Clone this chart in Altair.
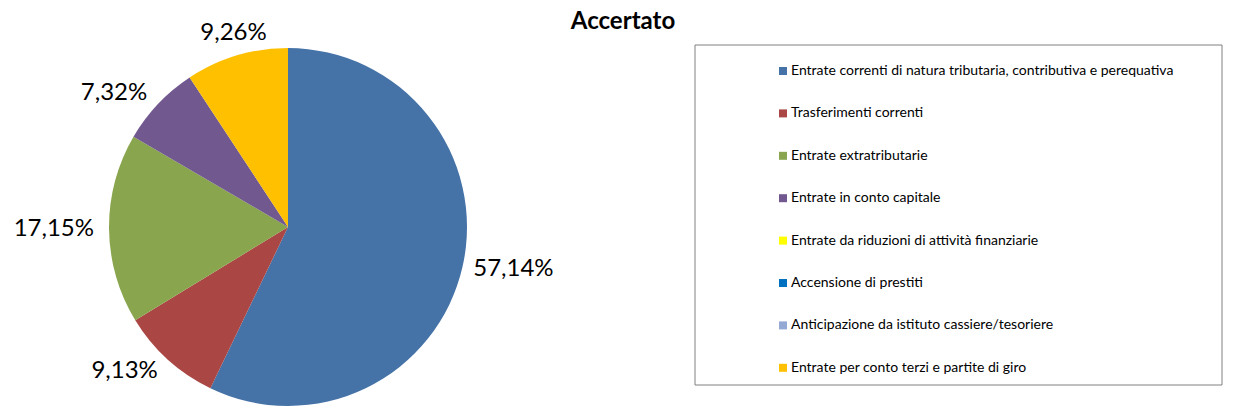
import altair as alt
import pandas as pd

categories = [
    "Entrate correnti di natura tributaria, contributiva e perequativa",
    "Trasferimenti correnti",
    "Entrate extratributarie",
    "Entrate in conto capitale",
    "Entrate da riduzioni di attività finanziarie",
    "Accensione di prestiti",
    "Anticipazione da istituto cassiere/tesoriere",
    "Entrate per conto terzi e partite di giro",
]
values = [57.14, 9.13, 17.15, 7.32, 0.0, 0.0, 0.0, 9.26]
colors = ["#4572A7", "#AA4643", "#89A54E", "#71588F", "#FFFF00", "#0070C0", "#95A9D5", "#FFC000"]
title_text = "Accertato"

FONT = "Lato"

rows = []
cum = 0.0
total = sum(values)
for i, (c, v) in enumerate(zip(categories, values)):
    mid = (cum + v / 2) / total * 360
    cum += v
    if mid <= 30 or mid >= 330:
        side = "top"
    elif mid < 150:
        side = "right"
    elif mid <= 210:
        side = "bottom"
    else:
        side = "left"
    lab = (f"{v:.2f}".replace(".", ",") + "%") if v > 0 else ""
    rows.append({"idx": i, "cat": c, "val": v, "side": side, "label": lab})
df = pd.DataFrame(rows)
for s in ["top", "right", "bottom", "left"]:
    df["lab_" + s] = [r["label"] if r["side"] == s else "" for r in rows]

CX, CY, R = 280, 219, 179

base = alt.Chart(df).encode(
    theta=alt.Theta("val:Q", stack=True),
    order=alt.Order("idx:Q"),
)

box = alt.Chart(pd.DataFrame({"a": [0]})).mark_rect(
    fill="white", stroke="#808080", strokeWidth=1
).encode(
    x=alt.value(687), x2=alt.value(1214), y=alt.value(37), y2=alt.value(377)
)

arcs = base.mark_arc(outerRadius=R, stroke=None).encode(
    x=alt.value(CX), y=alt.value(CY),
    color=alt.Color(
        "cat:N",
        scale=alt.Scale(domain=categories, range=colors),
        sort=categories,
        legend=alt.Legend(
            title=None,
            orient="none",
            legendX=768,
            legendY=56,
            symbolType="square",
            symbolSize=64,
            symbolStrokeWidth=0,
            labelFont=FONT,
            labelFontSize=14,
            labelColor="#000000",
            labelLimit=600,
            rowPadding=28.4,
            labelOffset=1,
            padding=0,
        ),
    ),
)

def lab_layer(side, align, baseline, r):
    return base.mark_text(
        radius=r, align=align, baseline=baseline, font=FONT, fontSize=24, color="#000000"
    ).encode(
        x=alt.value(CX), y=alt.value(CY), text=alt.Text("lab_" + side + ":N")
    )

labels = [
    lab_layer("right", "left", "middle", 190),
    lab_layer("left", "right", "middle", 194),
    lab_layer("top", "center", "bottom", 190),
    lab_layer("bottom", "center", "top", 190),
]

title = alt.Chart(pd.DataFrame({"t": [title_text]})).mark_text(
    font=FONT, fontSize=24, fontWeight="bold", color="#000000", align="center", baseline="middle"
).encode(x=alt.value(615), y=alt.value(14), text="t:N")

chart = alt.layer(box, arcs, *labels, title).properties(
    width=1234, height=403, autosize="none", padding=0
).configure_view(stroke=None)

chart.save("out.html", embed_options={"renderer": "svg", "actions": False})
